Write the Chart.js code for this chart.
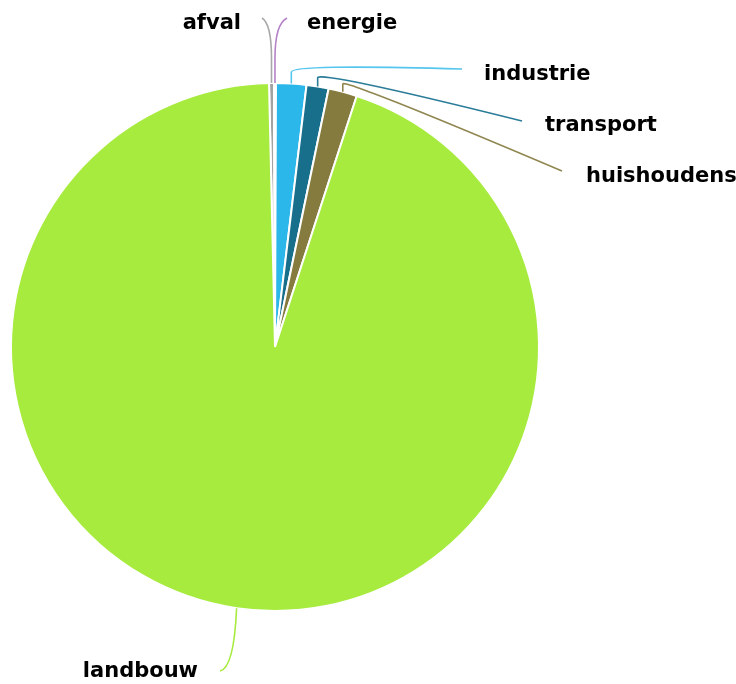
<!DOCTYPE html>
<html>
<head>
<meta charset="utf-8">
<script src="https://cdn.jsdelivr.net/npm/chart.js@4"></script>
<style>
  html, body { margin: 0; padding: 0; background: #fff; }
  canvas { display: block; }
</style>
</head>
<body>
<canvas id="pie" width="736" height="684"></canvas>
<script>
// data (percent share per sector)
const sectors = ['afval', 'energie', 'industrie', 'transport', 'huishoudens', 'landbouw'];
const shares = [0.3, 0.12, 1.85, 1.35, 1.75, 94.63];
const sliceColors = ['#a3a3a3', '#a25cb8', '#2cb7ea', '#186f8c', '#867b3f', '#a6eb3d'];
const lineColors = ['#a8a8a8', '#b583c8', '#55c6ee', '#2a7c98', '#8f8650', '#a6eb3d'];

// where each label and its connector end up (canvas pixels)
// straight: y where the radial part stops; ctrl: bend control point (x null = same as start)
const labelLayout = [
    { straight: 58, ctrl: [null, 24], end: [262, 18], text: [241, 24], align: 'right' },
    { straight: 58, ctrl: [null, 24], end: [287, 18], text: [307, 24], align: 'left' },
    { straight: 72, ctrl: [null, 64], end: [462, 69], text: [484, 75], align: 'left' },
    { straight: 78, ctrl: [null, 70], end: [522, 121], text: [545, 126], align: 'left' },
    { straight: 84, ctrl: [null, 78], end: [562, 171], text: [586, 177], align: 'left' },
    { straight: null, ctrl: [234, 668], end: [220, 671], text: [198, 672], align: 'right' }
];

const connectorLabels = {
    id: 'connectorLabels',
    afterDatasetsDraw(chart) {
        const ctx = chart.ctx;
        const meta = chart.getDatasetMeta(0);
        meta.data.forEach((arc, i) => {
            const p = arc.getProps(['x', 'y', 'startAngle', 'endAngle', 'outerRadius']);
            const mid = (p.startAngle + p.endAngle) / 2;
            const sx = p.x + Math.cos(mid) * p.outerRadius;
            const sy = p.y + Math.sin(mid) * p.outerRadius;
            const lay = labelLayout[i];
            const cx = lay.ctrl[0] === null ? sx : lay.ctrl[0];
            ctx.save();
            ctx.strokeStyle = lineColors[i];
            ctx.lineWidth = 1.6;
            ctx.beginPath();
            ctx.moveTo(sx, sy);
            if (lay.straight !== null) ctx.lineTo(sx, lay.straight);
            ctx.quadraticCurveTo(cx, lay.ctrl[1], lay.end[0], lay.end[1]);
            ctx.stroke();
            ctx.fillStyle = '#000';
            ctx.font = 'bold 21px "DejaVu Sans"';
            ctx.textAlign = lay.align;
            ctx.textBaseline = 'middle';
            ctx.fillText(sectors[i], lay.text[0], lay.text[1]);
            ctx.restore();
        });
    }
};

new Chart(document.getElementById('pie'), {
    type: 'pie',
    data: {
        labels: sectors,
        datasets: [{
            data: shares,
            backgroundColor: sliceColors,
            borderColor: '#ffffff',
            borderWidth: 2
        }]
    },
    options: {
        responsive: false,
        animation: false,
        devicePixelRatio: 1,
        rotation: -1.3,
        layout: {
            padding: { left: 10, right: 196, top: 82, bottom: 72 }
        },
        plugins: {
            legend: { display: false },
            tooltip: { enabled: false }
        }
    },
    plugins: [connectorLabels]
});
</script>
</body>
</html>
